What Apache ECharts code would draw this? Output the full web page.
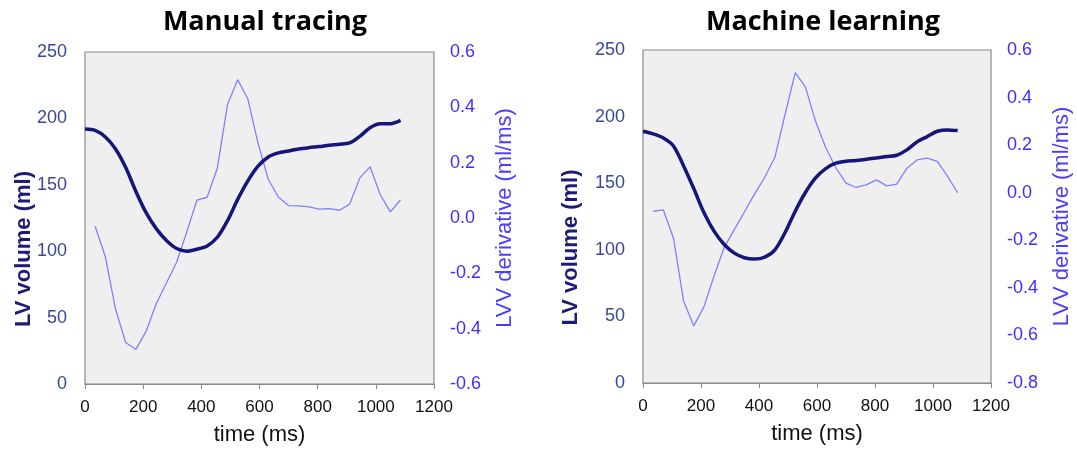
<!DOCTYPE html>
<html>
<head>
<meta charset="utf-8">
<script src="https://cdn.jsdelivr.net/npm/echarts@6/dist/echarts.min.js"></script>
<style>html,body{margin:0;padding:0;background:#fff;}#c{width:1077px;height:451px;}</style>
</head>
<body>
<div id="c"></div>
<script>
// sample times (ms)
const timeMs = [0,35,70,105,140,175,210,245,280,315,350,385,420,455,490,525,560,595,630,665,700,735,770,805,840,875,910,945,980,1015,1050,1085];

// Manual tracing
const manualVolume = [192,191,186,177,163,145,129,117,108,102,100,101.5,104,110.5,123,139,153,164,171,174,175.5,177,178,178.8,179.8,180.5,181.5,186.5,193,196,196,198.5];
const manualDeriv = [null,-0.03,-0.14,-0.33,-0.45,-0.475,-0.41,-0.31,-0.235,-0.16,-0.05,0.065,0.075,0.18,0.41,0.50,0.43,0.27,0.14,0.075,0.045,0.044,0.04,0.032,0.034,0.028,0.05,0.145,0.185,0.085,0.022,0.066];

// Machine learning
const mlVolume = [189,187,184,178,163,146,128,114,104,97.5,94,93,94.5,100,113,129,143,154,161,165,166.5,167,168,169,170,171,175,181,185,189,190,189.5];
const mlDeriv = [null,-0.078,-0.072,-0.19,-0.455,-0.56,-0.48,-0.35,-0.23,-0.155,-0.08,-0.005,0.065,0.15,0.33,0.505,0.445,0.30,0.19,0.105,0.04,0.022,0.033,0.054,0.029,0.036,0.103,0.138,0.145,0.132,0.07,0.0];

const titles = ['Manual tracing','Machine learning'];
const xTicks = {min:0,max:1200,interval:200};
const volTicks = {min:0,max:250,interval:50};
const derivTicks = [{min:-0.6,max:0.6,interval:0.2},{min:-0.8,max:0.6,interval:0.2}];

const pairs = (xs, ys) => xs.map((x,i) => [x, ys[i]]);

const FONT = '"Liberation Sans", Arial, sans-serif';
const VOL_COLOR = '#16167a';
const DER_COLOR = '#8080ff';

const grids = [
  {left:85, top:52, width:349, height:334},
  {left:643, top:50, width:348, height:333}
];
const volNameGap = [50, 61];

const titleStyle = {fontFamily:'"Open Sans", sans-serif', fontWeight:'bold', fontSize:27, color:'#000'};

const option = {
  animation:false,
  backgroundColor:'#ffffff',
  title: [
    {text:titles[0], left:260, top:4, textAlign:'center', textStyle:titleStyle},
    {text:titles[1], left:818, top:4, textAlign:'center', textStyle:titleStyle}
  ],
  grid: grids.map(g => Object.assign({show:true, backgroundColor:'#efefef', borderColor:'#8a8a8a', borderWidth:1.2, containLabel:false}, g)),
  xAxis: [0,1].map(i => ({
    type:'value', gridIndex:i, min:xTicks.min, max:xTicks.max, interval:xTicks.interval,
    name:'time (ms)', nameLocation:'middle', nameGap:40,
    nameTextStyle:{fontFamily:FONT, fontSize:22, color:'#111'},
    axisLine:{show:true, lineStyle:{color:'#8a8a8a', width:1.2}},
    axisTick:{show:true, length:5, lineStyle:{color:'#8a8a8a'}},
    axisLabel:{fontFamily:FONT, fontSize:17, color:'#111', margin:15, formatter:v => String(v)},
    splitLine:{show:false}
  })),
  yAxis: [0,1].flatMap(i => [
    {type:'value', gridIndex:i, position:'left', min:volTicks.min, max:volTicks.max, interval:volTicks.interval,
     name:'LV volume (ml)', nameLocation:'middle', nameGap:volNameGap[i], nameMoveOverlap:false,
     nameTextStyle:{fontFamily:FONT, fontSize:22, fontWeight:'bold', color:'#1c1c78', padding:[0,62,0,0]},
     axisLine:{show:false}, axisTick:{show:false}, splitLine:{show:false},
     axisLabel:{fontFamily:FONT, fontSize:18, color:'#3a4796', margin:18}},
    {type:'value', gridIndex:i, position:'right', min:derivTicks[i].min, max:derivTicks[i].max, interval:derivTicks[i].interval,
     name:'LVV derivative (ml/ms)', nameLocation:'middle', nameGap:60,
     nameTextStyle:{fontFamily:FONT, fontSize:22, color:'#4a3dff'},
     axisLine:{show:false}, axisTick:{show:false}, splitLine:{show:false},
     axisLabel:{fontFamily:FONT, fontSize:18, color:'#3f2dff', margin:16, formatter:v => v.toFixed(1)}}
  ]),
  series: [
    {type:'line', xAxisIndex:0, yAxisIndex:1, data:pairs(timeMs, manualDeriv), showSymbol:false, lineStyle:{color:DER_COLOR, width:1.3}, z:2},
    {type:'line', xAxisIndex:0, yAxisIndex:0, data:pairs(timeMs, manualVolume), showSymbol:false, smooth:0.3, lineStyle:{color:VOL_COLOR, width:3.5}, z:3},
    {type:'line', xAxisIndex:1, yAxisIndex:3, data:pairs(timeMs, mlDeriv), showSymbol:false, lineStyle:{color:DER_COLOR, width:1.3}, z:2},
    {type:'line', xAxisIndex:1, yAxisIndex:2, data:pairs(timeMs, mlVolume), showSymbol:false, smooth:0.3, lineStyle:{color:VOL_COLOR, width:3.5}, z:3}
  ]
};

const chart = echarts.init(document.getElementById('c'), null, {renderer:'canvas'});
chart.setOption(option);
</script>
</body>
</html>
